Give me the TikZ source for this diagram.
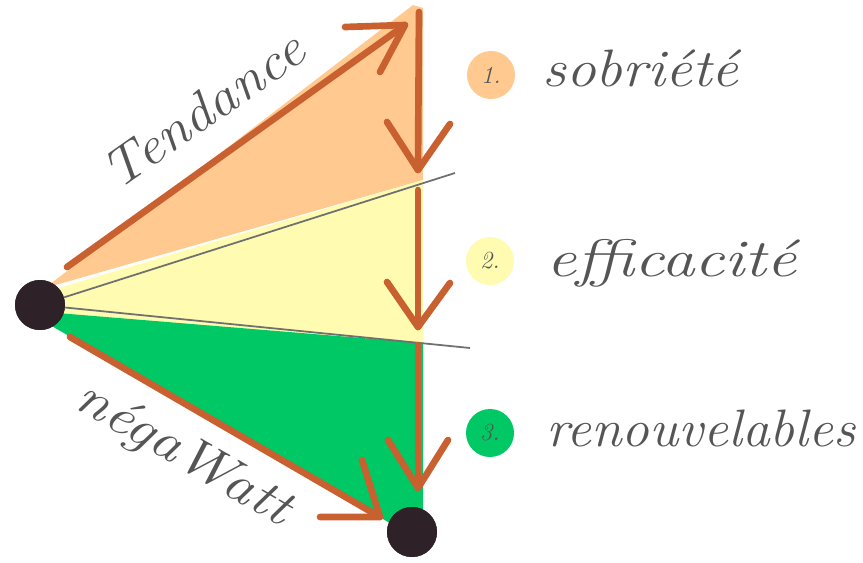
\documentclass[tikz,border=0pt]{standalone}
\usepackage{fontspec}
\usepackage{graphicx}
\usetikzlibrary{arrows.meta}
\definecolor{arrowc}{HTML}{C8602F}
\definecolor{orangef}{HTML}{FFC98F}
\definecolor{yellowf}{HTML}{FFFBB0}
\definecolor{greenf}{HTML}{00C864}
\definecolor{dotc}{HTML}{2E2228}
\definecolor{inkc}{HTML}{555555}
\definecolor{divc}{HTML}{707070}
\tikzset{
  arrowline/.style={draw=arrowc, line width=3.8pt, line cap=round, line join=round},
  divider/.style={draw=divc, line width=1pt},
  bigdot/.style={circle, fill=dotc, minimum size=50*0.02cm, inner sep=0pt},
  numdot/.style={circle, minimum size=48*0.02cm, inner sep=0pt, text=inkc, font=\itshape\fontsize{14}{16}\selectfont},
  hand/.style={text=inkc, font=\itshape\fontsize{30}{34}\selectfont, inner sep=0pt},
}
\begin{document}
\begin{tikzpicture}[x=0.02cm,y=-0.02cm]
\useasboundingbox (0,0) rectangle (863,562);
% fills
\fill[orangef] (45,288) -- (413,5) -- (423,8) -- (423,180) -- cycle;
\fill[yellowf] (45,292) -- (423,180) -- (423,343) -- (45,313) -- cycle;
\fill[greenf] (45,312) -- (423,343) -- (423,515) -- (388,522) -- (50,325) -- cycle;
% nodes
\node[bigdot] (L) at (40,305) {};
\node[bigdot] (B) at (412,532) {};
\coordinate (e1) at (455,173);
\coordinate (e2) at (470,348);
\draw[divider] (L) -- (e1);
\draw[divider] (L) -- (e2);
% top arrow (Tendance)
\coordinate (t0) at (67,267);
\coordinate (t1) at (405,25);
\coordinate (ta) at (345,27);
\coordinate (tb) at (380,72);
\draw[arrowline] (t0) -- (t1);
\draw[arrowline] (ta) -- (t1) -- (tb);
% vertical arrows
\coordinate (v0) at (419,12);
\coordinate (p1) at (418,170);
\coordinate (v1) at (418,190);
\coordinate (p2) at (418,327);
\coordinate (v2) at (418,345);
\coordinate (p3) at (418,488);
\draw[arrowline] (v0) -- (p1);
\draw[arrowline] (387,122) -- (p1) -- (450,124);
\draw[arrowline] (v1) -- (p2);
\draw[arrowline] (387,282) -- (p2) -- (450,283);
\draw[arrowline] (v2) -- (p3);
\draw[arrowline] (388,440) -- (p3) -- (448,440);
% bottom arrow (negaWatt)
\coordinate (n0) at (70,337);
\coordinate (n1) at (380,517);
\draw[arrowline] (n0) -- (n1);
\draw[arrowline] (320,517) -- (n1) -- (362,460);
% dots on top
\node[bigdot] at (L) {};
\node[bigdot] at (B) {};
% labels along arrows
\node[hand, rotate=35] (tend) at (203,110) {\scalebox{1.1}[1]{Tendance}};
\node[hand, rotate=-30] (nega) at (183,455) {\scalebox{1.15}[1]{négaWatt}};
% numbered items
\node[numdot, fill=orangef] (c1) at (491,75) {1.};
\node[numdot, fill=yellowf] (c2) at (490,261) {2.};
\node[numdot, fill=greenf] (c3) at (490,433) {3.};
\node[hand, anchor=base west] (s1) at (542,86) {\scalebox{1.13}[1]{sobriété}};
\node[hand, anchor=base west] (s2) at (546,276) {\scalebox{1.27}[1]{efficacité}};
\node[hand, anchor=base west] (s3) at (546,446) {\scalebox{1.05}[1]{renouvelables}};
\end{tikzpicture}
\end{document}
